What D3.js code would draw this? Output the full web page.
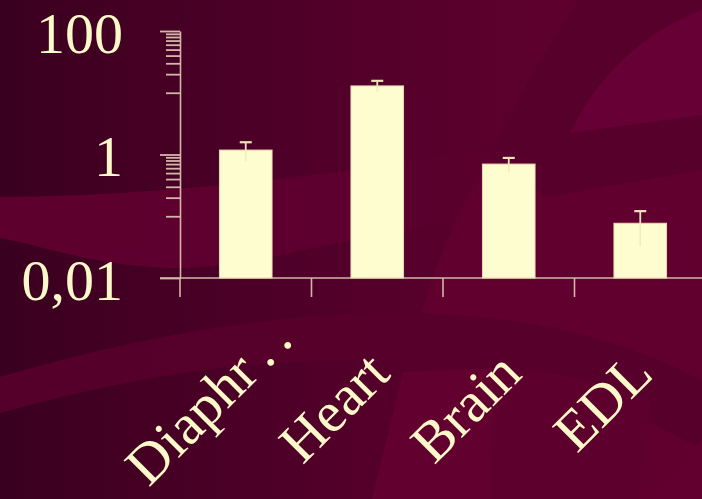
<!DOCTYPE html>
<html>
<head>
<meta charset="utf-8">
<script src="https://cdn.jsdelivr.net/npm/d3@7"></script>
<style>
  html, body { margin: 0; padding: 0; background: #3a001f; overflow: hidden; }
  svg { display: block; }
</style>
</head>
<body>
<svg id="chart" width="702" height="499"></svg>
<script>
// Tissue categories (as labelled on the axis)
const categories = ["Diaphr . .", "Heart", "Brain", "EDL"];
// Mean value per tissue (log scale)
const means = [1.18, 12.9, 0.70, 0.077];
// Standard error of each mean
const errors = [0.40, 2.7, 0.18, 0.044];
// Labelled decades on the y axis
const majorTicks = [100, 1, 0.01];
// Unlabelled minor ticks on the y axis
const minorTicks = [90, 80, 70, 60, 50, 40, 30, 20, 10, 0.9, 0.8, 0.7, 0.6, 0.5, 0.4, 0.3, 0.2, 0.1];

const W = 702, H = 499;
const svg = d3.select("#chart");

const cream = "#fbf8c9";
const axisColor = "#d2b6a8";
const font = "'Liberation Serif', 'Times New Roman', serif";

// ---------- background ----------
const defs = svg.append("defs");
const bg = defs.append("linearGradient").attr("id", "bg").attr("x1", 0).attr("x2", 1).attr("y1", 0).attr("y2", 0);
bg.append("stop").attr("offset", "0%").attr("stop-color", "#3a001f");
bg.append("stop").attr("offset", "40%").attr("stop-color", "#4e0028");
bg.append("stop").attr("offset", "70%").attr("stop-color", "#5b002d");
bg.append("stop").attr("offset", "100%").attr("stop-color", "#62002f");

const band = defs.append("linearGradient").attr("id", "band").attr("x1", 0).attr("x2", 1).attr("y1", 0).attr("y2", 0);
band.append("stop").attr("offset", "0%").attr("stop-color", "#5d002e");
band.append("stop").attr("offset", "70%").attr("stop-color", "#5e002f");
band.append("stop").attr("offset", "100%").attr("stop-color", "#5e002f").attr("stop-opacity", 0);

const arc = defs.append("linearGradient").attr("id", "arc").attr("x1", 0).attr("x2", 1).attr("y1", 0).attr("y2", 0);
arc.append("stop").attr("offset", "0%").attr("stop-color", "#55002a");
arc.append("stop").attr("offset", "100%").attr("stop-color", "#57002b");

const bgLayer = svg.append("g");
bgLayer.append("rect").attr("width", W).attr("height", H).attr("fill", "url(#bg)");
// lighter swoosh across the middle left
bgLayer.append("path")
  .attr("d", "M0,197 C150,196 300,180 500,148 L500,212 C330,240 250,268 180,268 C100,268 40,245 0,238 Z")
  .attr("fill", "url(#band)");
// dark sweep in the upper right
bgLayer.append("path")
  .attr("d", "M578,0 C540,60 510,110 490,158 L547,197 L702,170 L702,115 L570,133 C600,70 650,30 702,10 L702,0 Z")
  .attr("fill", "#57002b");
// bright disc segment in the upper right corner
bgLayer.append("path")
  .attr("d", "M570,133 C600,70 650,30 702,10 L702,115 Z")
  .attr("fill", "#660035");
// lighter panel right of the sweep
bgLayer.append("path")
  .attr("d", "M490,158 L547,197 L702,170 L702,385 Q560,318 421,314 L433,277 C450,230 470,190 490,158 Z")
  .attr("fill", "#61002f");
// broad arc below the axis
bgLayer.append("path")
  .attr("d", "M0,377 Q449,247 702,380 L702,450 Q430,292 0,413 Z")
  .attr("fill", "url(#arc)");
// lighter panels near the bottom
bgLayer.append("path")
  .attr("d", "M403,372 L372,499 L490,499 L495,368 Z")
  .attr("fill", "#62002f");
bgLayer.append("path")
  .attr("d", "M495,368 L490,499 L640,499 L650,400 Q580,372 495,368 Z")
  .attr("fill", "#5d002d");
bgLayer.append("path")
  .attr("d", "M702,440 L702,499 L650,499 Z")
  .attr("fill", "#62002f");

// ---------- scales ----------
const y = d3.scaleLog().domain([0.01, 100]).range([278, 31]);
const x = d3.scaleBand().domain(categories).range([180, 706]).paddingInner(0.6).paddingOuter(0.3);

const locale = d3.formatLocale({ decimal: ",", thousands: ".", grouping: [3], currency: ["", "€"] });
const fmt = locale.format("~g");

// ---------- y axis ----------
const yMinor = svg.append("g").attr("transform", "translate(180,0)")
  .call(d3.axisLeft(y).tickValues(minorTicks).tickSize(14).tickFormat(""));
yMinor.select(".domain").remove();
yMinor.selectAll(".tick line").attr("stroke", axisColor).attr("stroke-width", 1.8);

const yMajor = svg.append("g").attr("transform", "translate(180,0)")
  .call(d3.axisLeft(y).tickValues(majorTicks).tickSize(20).tickSizeOuter(0).tickPadding(37).tickFormat(fmt));
yMajor.select(".domain").attr("stroke", axisColor).attr("stroke-width", 1.6);
yMajor.selectAll(".tick line").attr("stroke", axisColor).attr("stroke-width", 1.8);
yMajor.selectAll(".tick text")
  .attr("fill", cream).attr("font-family", font).attr("font-size", 58).attr("dy", "0.37em");

// ---------- x axis ----------
const gap = (x.step() - x.bandwidth()) / 2;
const xAxis = svg.append("g").attr("transform", "translate(0,278)");
xAxis.append("line").attr("x1", 160).attr("x2", W).attr("y1", 0).attr("y2", 0)
  .attr("stroke", axisColor).attr("stroke-width", 1.6);
xAxis.selectAll("line.sep").data(categories).join("line").attr("class", "sep")
  .attr("x1", d => x(d) - gap).attr("x2", d => x(d) - gap)
  .attr("y1", 0).attr("y2", 19)
  .attr("stroke", axisColor).attr("stroke-width", 1.6);

// ---------- bars ----------
const data = categories.map((c, i) => ({ c, v: means[i], e: errors[i] }));

svg.append("g").selectAll("rect").data(data).join("rect")
  .attr("x", d => x(d.c))
  .attr("width", x.bandwidth())
  .attr("y", d => y(d.v))
  .attr("height", d => y(0.01) - y(d.v))
  .attr("fill", "#fefdd0")
  .attr("stroke", "#e6d9b0")
  .attr("stroke-width", 1);

// error bars: lower half shows faintly through the bar, upper half with a cap
const eb = svg.append("g");
eb.selectAll("line.lo").data(data).join("line").attr("class", "lo")
  .attr("x1", d => x(d.c) + x.bandwidth() / 2).attr("x2", d => x(d.c) + x.bandwidth() / 2)
  .attr("y1", d => y(d.v)).attr("y2", d => y(d.v - d.e))
  .attr("stroke", "#f1ecc4").attr("stroke-width", 1.5);
eb.selectAll("line.hi").data(data).join("line").attr("class", "hi")
  .attr("x1", d => x(d.c) + x.bandwidth() / 2).attr("x2", d => x(d.c) + x.bandwidth() / 2)
  .attr("y1", d => y(d.v)).attr("y2", d => y(d.v + d.e))
  .attr("stroke", "#eee2b6").attr("stroke-width", 1.8);
eb.selectAll("line.cap").data(data).join("line").attr("class", "cap")
  .attr("x1", d => x(d.c) + x.bandwidth() / 2 - 6).attr("x2", d => x(d.c) + x.bandwidth() / 2 + 6)
  .attr("y1", d => y(d.v + d.e)).attr("y2", d => y(d.v + d.e))
  .attr("stroke", "#eee2b6").attr("stroke-width", 2.2);

// ---------- category labels ----------
const labels = svg.append("g").selectAll("text").data(categories).join("text")
  .attr("transform", d => `translate(${x(d) + x.bandwidth() / 2 + 15},376) rotate(-45)`)
  .attr("text-anchor", "end")
  .attr("fill", cream)
  .attr("font-family", font)
  .attr("font-size", 57)
  .attr("word-spacing", "-0.08em");

labels.each(function (d) {
  const t = d3.select(this);
  const m = d.match(/^(.*?)(\s[.\s]+)$/);
  if (m) {
    // truncated name: the trailing dots run past the anchor point
    t.append("tspan").text(m[1]);
    const tail = t.append("tspan").text(m[2]);
    t.attr("x", tail.node().getComputedTextLength());
  } else {
    t.text(d);
  }
});
</script>
</body>
</html>
